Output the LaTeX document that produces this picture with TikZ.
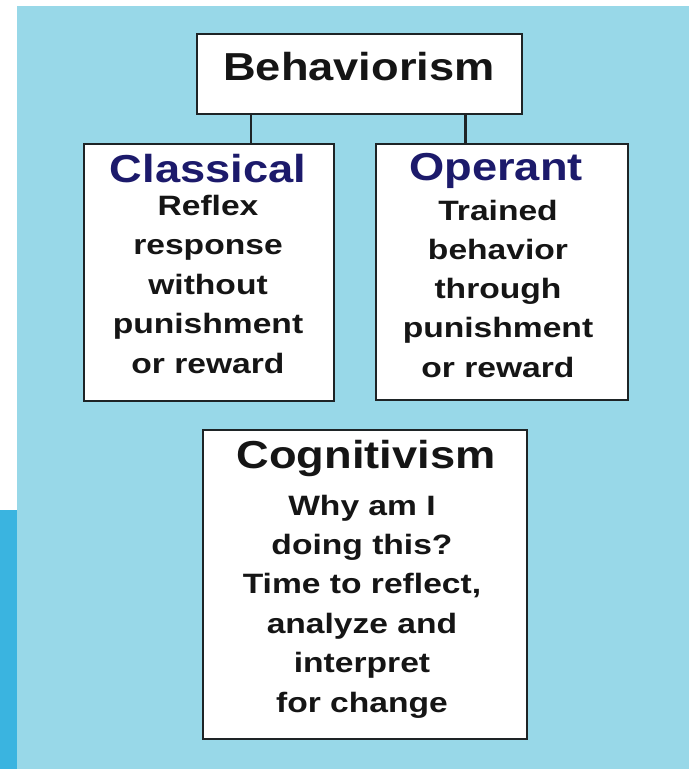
\documentclass[tikz,border=0pt]{standalone}
\usepackage{fontspec}
\newfontfamily\titlefont{Liberation Sans}[FakeStretch=1.16]
\newfontfamily\bodyfont{Liberation Sans}[FakeStretch=1.2]
\definecolor{bgblue}{HTML}{98D8E8}
\definecolor{barblue}{HTML}{3AB4E0}
\definecolor{navy}{HTML}{1C1A6B}
\definecolor{ink}{HTML}{151515}
\definecolor{edge}{HTML}{1E2426}
\tikzset{
  box/.style={draw=edge, line width=2.4pt, fill=white, inner sep=0pt, anchor=north west},
  ttl/.style={inner sep=0pt, anchor=base, font=\titlefont\bfseries\fontsize{39}{39}\selectfont},
  bodyline/.style={inner sep=0pt, anchor=base, text=ink, font=\bodyfont\bfseries\fontsize{28}{28}\selectfont},
  link/.style={draw=edge, line width=2.2pt}
}
\begin{document}
\begin{tikzpicture}[x=1pt,y=-1pt]
\useasboundingbox (0,0) rectangle (689,769);
\fill[white] (0,0) rectangle (689,769);
\fill[bgblue] (17,6) rectangle (689,769);
\fill[barblue] (0,510) rectangle (17,769);

\node[box, minimum width=325pt, minimum height=80pt] (beh) at (196,33) {};
\node[box, minimum width=250pt, minimum height=257pt] (cls) at (83,143) {};
\node[box, minimum width=252pt, minimum height=256pt] (opr) at (375,143) {};
\node[box, minimum width=324pt, minimum height=309pt] (cog) at (202,429) {};

\draw[link] ([xshift=55pt]beh.south west) -- ([xshift=55pt]beh.south west |- cls.north);
\draw[link] ([xshift=-58pt]beh.south east) -- ([xshift=-58pt]beh.south east |- opr.north);

\node[ttl, text=ink] (behT) at (359,80) {Behaviorism};
\node[ttl, text=navy] (clsT) at (208,182) {Classical};
\node[ttl, text=navy] (oprT) at (496,180) {Operant};
\node[ttl, text=ink] (cogT) at (366,468) {Cognitivism};

\foreach \t [count=\i] in {Reflex,response,without,punishment,or reward}
  \node[bodyline] (cl\i) at (208,{215+39.5*(\i-1)}) {\t};
\foreach \t [count=\i] in {Trained,behavior,through,punishment,or reward}
  \node[bodyline] (op\i) at (498,{220+39.3*(\i-1)}) {\t};
\foreach \t [count=\i] in {Why am I,doing this?,{Time to reflect,},analyze and,interpret,for change}
  \node[bodyline] (cg\i) at (362,{515+39.4*(\i-1)}) {\t};
\end{tikzpicture}
\end{document}
